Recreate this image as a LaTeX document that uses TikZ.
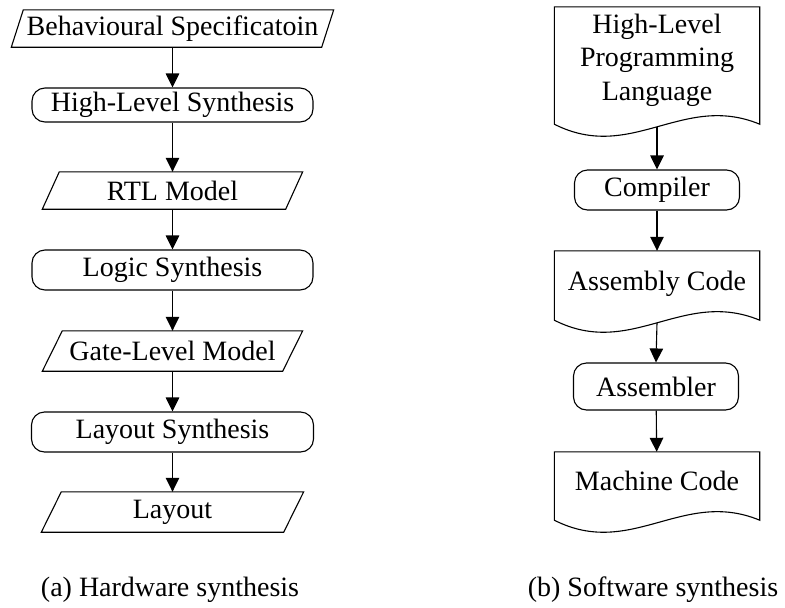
\documentclass[tikz,border=0pt]{standalone}
\usepackage{fontspec}
\setmainfont{Liberation Serif}
\usetikzlibrary{arrows.meta,calc}

% parallelogram (data) outline around a rectangular node: #1 name, #2 slant
\newcommand\ioshape[2]{%
  \draw[outline] ([xshift=#2pt]#1.north west) -- (#1.north east)
    -- ([xshift=-#2pt]#1.south east) -- (#1.south west) -- cycle;}
% document outline with a wavy bottom: #1 name, #2 extra depth of the sides
\newcommand\docshape[2]{%
  \draw[outline] (#1.north west) -- ([yshift=-#2pt]#1.south west)
    .. controls +(77,39) and +(-77,-32) .. ([yshift=-#2pt]#1.south east)
    -- (#1.north east) -- cycle;}

\begin{document}
\begin{tikzpicture}[x=1pt,y=-1pt,
  every node/.style={font=\fontsize{28}{33.5}\selectfont, inner sep=0pt},
  outline/.style={line width=1.1pt},
  proc/.style={draw, outline, rounded corners=13pt},
  iobox/.style={minimum width=260pt, minimum height=40pt},
  docbox/.style={minimum width=205pt, text height=19pt, text depth=6pt},
  arr/.style={-{Triangle[length=14pt,width=13.5pt]}, line width=1.1pt},
]
\useasboundingbox (0,0) rectangle (785,608);

% ---- (a) hardware synthesis flow ----
\node[iobox, minimum width=322pt, minimum height=37pt] (beh) at (172.5,28.5) {Behavioural Specificatoin};
\node[proc, minimum width=281pt, minimum height=34pt] (hls) at (172.5,105) {High-Level Synthesis};
\node[iobox, minimum height=37pt] (rtl) at (172.5,190.5) {RTL Model};
\node[proc, minimum width=281pt, minimum height=40pt] (logic) at (172.5,270) {Logic Synthesis};
\node[iobox] (gate) at (172.5,351) {Gate-Level Model};
\node[proc, minimum width=282pt, minimum height=40pt] (laysyn) at (172.5,432) {Layout Synthesis};
\node[iobox, minimum width=262pt] (layout) at (172.5,512) {Layout};
\node (capA) at (170,590) {(a) Hardware synthesis};

\ioshape{beh}{12}
\ioshape{rtl}{17}
\ioshape{gate}{20}
\ioshape{layout}{20}

\draw[arr] (beh) -- (hls);
\draw[arr] (hls) -- (rtl);
\draw[arr] (rtl) -- (logic);
\draw[arr] (logic) -- (gate);
\draw[arr] (gate) -- (laysyn);
\draw[arr] (laysyn) -- (layout);

% ---- (b) software synthesis flow ----
\node[minimum width=205pt, minimum height=106pt, align=center] (hll) at (657,60)
  {High-Level\\Programming\\Language};
\node[proc, minimum width=165pt, minimum height=40pt] (comp) at (657,190) {Compiler};
\node[docbox, minimum height=65pt] (asm) at (657,283.5) {Assembly Code};
\node[proc, minimum width=165pt, minimum height=47pt] (asmr) at (656,386.5) {Assembler};
\node[docbox, minimum height=63pt] (mc) at (657,483.5) {Machine Code};
\node (capB) at (653,590) {(b) Software synthesis};

\docshape{hll}{11}
\docshape{asm}{4}
\docshape{mc}{5}

\draw[arr] ([yshift=-13.6pt]hll.south) -- (comp.north);
\draw[arr] (comp) -- (asm);
\draw[arr] ([yshift=-6.6pt]asm.south) -- (asmr.north);
\draw[arr] (asmr) -- (mc);
\end{tikzpicture}
\end{document}
